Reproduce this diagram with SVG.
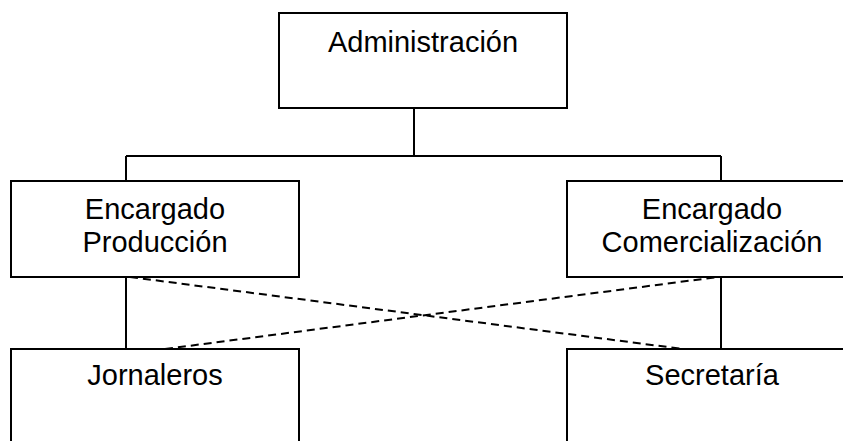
<svg xmlns="http://www.w3.org/2000/svg" width="843" height="441" viewBox="0 0 843 441">
<style>
.box{fill:#fff;stroke:#000;stroke-width:2}
.t{font-family:"Liberation Sans",Arial,sans-serif;font-size:29px;fill:#000;text-anchor:middle}
.ln{stroke:#000;stroke-width:2;fill:none}
.dash{stroke:#000;stroke-width:2;fill:none;stroke-dasharray:8,5}
</style>
<rect width="843" height="441" fill="#fff"/>
<g id="connectors">
<line class="ln" x1="414" y1="108" x2="414" y2="156"/>
<line class="ln" x1="126" y1="156" x2="721" y2="156"/>
<line class="ln" x1="126" y1="156" x2="126" y2="181"/>
<line class="ln" x1="721" y1="156" x2="721" y2="181"/>
<line class="ln" x1="126" y1="277" x2="126" y2="349"/>
<line class="ln" x1="721" y1="277" x2="721" y2="349"/>
<line class="dash" x1="130" y1="277" x2="683" y2="349"/>
<line class="dash" x1="165" y1="349" x2="718" y2="277"/>
</g>
<g id="administracion">
<rect class="box" x="279" y="13" width="288" height="95"/>
<text class="t" x="423" y="52">Administración</text>
</g>
<g id="encargado-produccion">
<rect class="box" x="11" y="181" width="288" height="96"/>
<text class="t" x="155" y="219">Encargado</text>
<text class="t" x="155" y="252">Producción</text>
</g>
<g id="encargado-comercializacion">
<rect class="box" x="567" y="181" width="290" height="96"/>
<text class="t" x="712" y="219">Encargado</text>
<text class="t" x="712" y="252">Comercialización</text>
</g>
<g id="jornaleros">
<rect class="box" x="11" y="349" width="288" height="100"/>
<text class="t" x="155" y="385">Jornaleros</text>
</g>
<g id="secretaria">
<rect class="box" x="567" y="349" width="290" height="100"/>
<text class="t" x="712" y="385">Secretaría</text>
</g>
</svg>
